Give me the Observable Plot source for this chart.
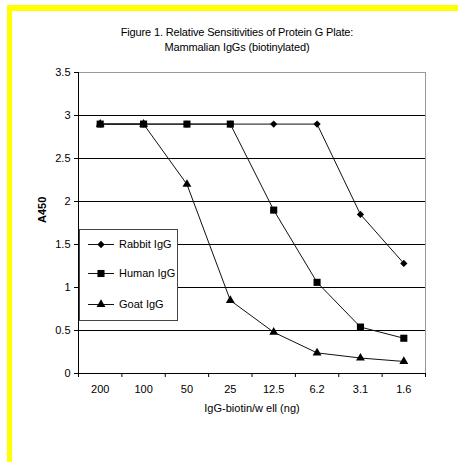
<!DOCTYPE html>
<html><head><meta charset="utf-8">
<script src="https://cdn.jsdelivr.net/npm/d3@7"></script>
<script src="https://cdn.jsdelivr.net/npm/@observablehq/plot@0.6"></script>
<style>
body{margin:0;background:#fff;font-family:"Liberation Sans",Arial,sans-serif;}
#wrap{position:relative;width:458px;height:462px;overflow:hidden;background:#fff;}
.yb{position:absolute;background:#ffff00;z-index:5;}
#title{position:absolute;left:16px;width:442px;top:25px;text-align:center;font-size:11px;line-height:15px;color:#000;letter-spacing:-0.15px;}
#chart{position:absolute;left:0;top:60px;}
#legend{position:absolute;left:79px;top:229px;width:97px;height:90px;border:1px solid #444;background:#fff;}
#legend svg{display:block;}
</style>
</head><body>
<div id="wrap">
  <div class="yb" style="left:7px;top:5px;width:451px;height:6px;"></div>
  <div class="yb" style="left:7px;top:5px;width:5px;height:457px;"></div>
  <div id="title">Figure 1. Relative Sensitivities of Protein G Plate:<br>Mammalian IgGs (biotinylated)</div>
  <div id="chart"></div>
  <div id="legend"></div>
</div>
<script>
const categories = ["200","100","50","25","12.5","6.2","3.1","1.6"];
const seriesNames = ["Rabbit IgG","Human IgG","Goat IgG"];
const rabbit = [2.9,2.9,2.9,2.9,2.9,2.9,1.85,1.28];
const human  = [2.9,2.9,2.9,2.9,1.9,1.06,0.54,0.41];
const goat   = [2.9,2.9,2.2,0.85,0.48,0.24,0.18,0.14];
const yTicks = [0,0.5,1,1.5,2,2.5,3,3.5];
const gridValues = [0.5,1,1.5,2,2.5,3];

const valuesBySeries = {"Rabbit IgG": rabbit, "Human IgG": human, "Goat IgG": goat};
const data = [];
for (const s of seriesNames) valuesBySeries[s].forEach((v,i) => data.push({series:s, xi:i+0.5, v}));

// square-ish diamond like the spreadsheet marker
const squareDiamond = {
  draw(ctx, size) {
    const r = Math.sqrt(size / 2);
    ctx.moveTo(0, -r); ctx.lineTo(r, 0); ctx.lineTo(0, r); ctx.lineTo(-r, 0); ctx.closePath();
  }
};
const symbols = {"Rabbit IgG": squareDiamond, "Human IgG": d3.symbolSquare, "Goat IgG": d3.symbolTriangle};
const radii = {"Rabbit IgG":2.9,"Human IgG":4,"Goat IgG":3.3};
const drawOrder = ["Goat IgG","Rabbit IgG","Human IgG"];

const plot = Plot.plot({
  width: 458,
  height: 402,
  marginLeft: 78,
  marginRight: 33,
  marginTop: 12,
  marginBottom: 89,
  style: {fontFamily: "'Liberation Sans', Arial, sans-serif", fontSize: "11px", color: "#000", background: "transparent"},
  x: {type: "linear", domain: [0, categories.length]},
  y: {domain: [0, 3.5]},
  marks: [
    Plot.ruleY(gridValues, {stroke: "#000", strokeWidth: 1}),
    Plot.ruleY([3.5], {stroke: "#999", strokeWidth: 1}),
    Plot.ruleX([categories.length], {stroke: "#999", strokeWidth: 1}),
    Plot.line(data, {x: "xi", y: "v", z: "series", stroke: "#111", strokeWidth: 1}),
    ...drawOrder.map(s => Plot.dot(data.filter(d => d.series === s), {x: "xi", y: "v", symbol: symbols[s], r: radii[s], fill: "#000", stroke: "none"})),
    Plot.ruleX([0], {stroke: "#000", strokeWidth: 1}),
    Plot.ruleY([0], {stroke: "#000", strokeWidth: 1}),
    Plot.axisY({ticks: yTicks, tickSize: 4, tickPadding: 4, tickFormat: d => String(d), label: null}),
    Plot.axisX({ticks: d3.range(0, categories.length + 1), tickSize: 4, tickFormat: () => "", label: null}),
    Plot.axisX({ticks: categories.map((c,i) => i + 0.5), tickSize: 0, tickPadding: 12, tickFormat: d => categories[Math.round(d - 0.5)], label: null}),
    Plot.text(["A450"], {frameAnchor: "left", dx: -36, rotate: -90, fontWeight: "bold", fontSize: 11}),
    Plot.text(["IgG-biotin/w ell (ng)"], {frameAnchor: "bottom", dy: 38, fontSize: 11})
  ]
});
document.getElementById("chart").appendChild(plot);

// legend
const lg = d3.select("#legend").append("svg").attr("width", 97).attr("height", 90);
const rowY = [14, 43, 74];
seriesNames.forEach((s, i) => {
  const y = rowY[i];
  lg.append("line").attr("x1", 8).attr("x2", 34).attr("y1", y + 0.5).attr("y2", y + 0.5).attr("stroke", "#111");
  lg.append("path").attr("transform", `translate(21,${y + 0.5})`)
    .attr("d", d3.symbol(symbols[s], Math.PI * radii[s] * radii[s])())
    .attr("fill", "#000");
  lg.append("text").attr("x", 39).attr("y", y).attr("dy", "0.35em").attr("font-size", 11)
    .attr("font-family", "'Liberation Sans', Arial, sans-serif").text(s);
});
</script>
</body></html>
